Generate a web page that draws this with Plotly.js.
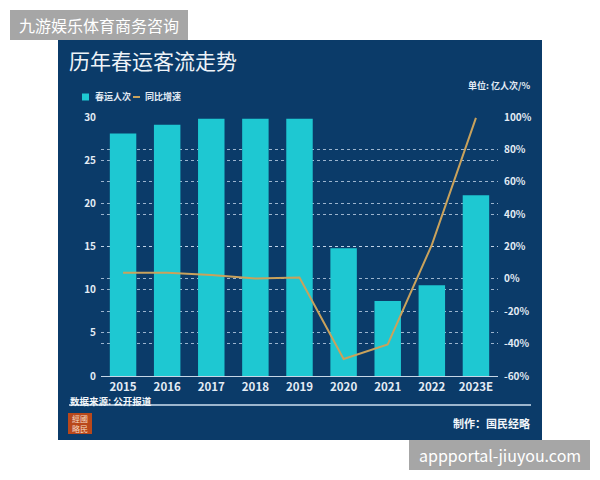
<!DOCTYPE html>
<html>
<head>
<meta charset="utf-8">
<script src="https://cdn.plot.ly/plotly-3.0.1.min.js"></script>
<style>
  html, body { margin: 0; padding: 0; background: #ffffff; }
  #chart { width: 600px; height: 480px; }
</style>
</head>
<body>
<div id="chart"></div>
<script>
// Spring Festival travel: passenger trips (100 million) and year-on-year growth (%)
const years = ['2015', '2016', '2017', '2018', '2019', '2020', '2021', '2022', '2023E'];
const passengers = [28.1, 29.1, 29.8, 29.8, 29.8, 14.8, 8.7, 10.5, 20.95];
const growth = [3.8, 3.8, 2.4, 0.3, 0.8, -49.5, -40.5, 21, 99.5];

const seriesNames = ['春运人次', '同比增速'];
const leftTicks = [0, 5, 10, 15, 20, 25, 30];
const rightTicks = [-60, -40, -20, 0, 20, 40, 60, 80, 100];

const W = 600, H = 480;
const M = { l: 101, r: 102, t: 117, b: 104 };
const PW = W - M.l - M.r, PH = H - M.t - M.b;
// pixel -> paper helpers for decorations outside the plot area
const px = x => (x - M.l) / PW;
const py = y => (H - M.b - y) / PH;

const FONT = '"Noto Sans CJK SC", "Noto Sans", sans-serif';
const NAVY = '#0b3b69';
const CYAN = '#1ec8d2';
const GOLD = '#c9a25c';
const LIGHT = '#e4ecf5';

const traces = [
  {
    type: 'bar',
    name: seriesNames[0],
    x: years,
    y: passengers,
    marker: { color: CYAN, line: { width: 0 } },
    width: 0.6,
    showlegend: false,
    hoverinfo: 'x+y'
  },
  {
    type: 'scatter',
    mode: 'lines',
    name: seriesNames[1],
    x: years,
    y: growth,
    yaxis: 'y2',
    line: { color: GOLD, width: 2 },
    showlegend: false,
    hoverinfo: 'x+y'
  }
];

const layout = {
  width: W,
  height: H,
  margin: M,
  paper_bgcolor: '#ffffff',
  plot_bgcolor: 'rgba(0,0,0,0)',
  font: { family: FONT, color: LIGHT, size: 11 },
  title: {
    text: '历年春运客流走势',
    font: { family: FONT, size: 21, color: '#eef3f8' },
    xref: 'container', x: 69 / W, xanchor: 'left',
    yref: 'container', y: 1 - 62 / H, yanchor: 'middle'
  },
  showlegend: false,
  bargap: 0.4,
  xaxis: {
    type: 'category',
    tickfont: { family: FONT, size: 11.5, color: LIGHT, weight: 'bold' },
    showgrid: false,
    showline: true,
    linecolor: '#c7d6e6',
    linewidth: 1,
    ticks: '',
    ticklabelstandoff: 0,
    zeroline: false,
    fixedrange: true
  },
  yaxis: {
    range: [0, 30],
    tickvals: leftTicks,
    ticktext: leftTicks.map(String),
    tickfont: { family: FONT, size: 10, color: LIGHT, weight: 'bold' },
    showgrid: true,
    gridcolor: 'rgba(205,222,240,0.75)',
    griddash: 'dot',
    gridwidth: 1,
    zeroline: false,
    ticks: '',
    ticklabelstandoff: 4,
    fixedrange: true
  },
  yaxis2: {
    overlaying: 'y',
    side: 'right',
    range: [-60, 100],
    tickvals: rightTicks,
    ticktext: rightTicks.map(v => v + '%'),
    tickfont: { family: FONT, size: 10, color: LIGHT, weight: 'bold' },
    showgrid: true,
    gridcolor: 'rgba(205,222,240,0.75)',
    griddash: 'dot',
    gridwidth: 1,
    zeroline: false,
    ticks: '',
    ticklabelstandoff: 5,
    fixedrange: true
  },
  shapes: [
    // navy card
    { type: 'rect', xref: 'paper', yref: 'paper', layer: 'below',
      x0: px(58), x1: px(542), y0: py(440), y1: py(40),
      fillcolor: NAVY, line: { width: 0 } },
    // legend keys
    { type: 'rect', xref: 'paper', yref: 'paper',
      x0: px(82), x1: px(89), y0: py(100.5), y1: py(93.5),
      fillcolor: CYAN, line: { width: 0 } },
    { type: 'line', xref: 'paper', yref: 'paper',
      x0: px(133), x1: px(140), y0: py(97), y1: py(97),
      line: { color: GOLD, width: 2 } },
    // rule under the source note
    { type: 'line', xref: 'paper', yref: 'paper',
      x0: px(69), x1: px(531), y0: py(405), y1: py(405),
      line: { color: '#cfe0f0', width: 1.5 } },
    // seal logo
    { type: 'rect', xref: 'paper', yref: 'paper',
      x0: px(68), x1: px(92), y0: py(434), y1: py(413),
      fillcolor: '#b9481b', line: { width: 0 } },
    // top-left site badge
    { type: 'rect', xref: 'paper', yref: 'paper',
      x0: px(10), x1: px(188), y0: py(40), y1: py(10),
      fillcolor: '#a6a6a6', line: { width: 0 } },
    // bottom-right site badge
    { type: 'rect', xref: 'paper', yref: 'paper',
      x0: px(409), x1: px(590), y0: py(470), y1: py(440),
      fillcolor: '#a6a6a6', line: { width: 0 } }
  ],
  annotations: [
    { text: seriesNames[0], xref: 'paper', yref: 'paper',
      x: px(93), y: py(97), xanchor: 'left', yanchor: 'middle',
      showarrow: false, font: { family: FONT, size: 9, color: LIGHT, weight: 'bold' } },
    { text: seriesNames[1], xref: 'paper', yref: 'paper',
      x: px(143), y: py(97), xanchor: 'left', yanchor: 'middle',
      showarrow: false, font: { family: FONT, size: 9, color: LIGHT, weight: 'bold' } },
    { text: '单位: 亿人次/%', xref: 'paper', yref: 'paper',
      x: px(532), y: py(85), xanchor: 'right', yanchor: 'middle',
      showarrow: false, font: { family: FONT, size: 9, color: LIGHT, weight: 'bold' } },
    { text: '数据来源: 公开报道', xref: 'paper', yref: 'paper',
      x: px(68), y: py(400.5), xanchor: 'left', yanchor: 'middle',
      showarrow: false, font: { family: FONT, size: 9.5, color: '#f2f6fa', weight: 'bold' } },
    { text: '制作：国民经略', xref: 'paper', yref: 'paper',
      x: px(532), y: py(423), xanchor: 'right', yanchor: 'middle',
      showarrow: false, font: { family: FONT, size: 11, color: '#f2f6fa', weight: 'bold' } },
    { text: '經國<br>略民', xref: 'paper', yref: 'paper',
      x: px(80), y: py(423.5), xanchor: 'center', yanchor: 'middle',
      showarrow: false, align: 'center',
      font: { family: '"Noto Sans CJK TC", serif', size: 8, color: '#f6dcc4' } },
    { text: '九游娱乐体育商务咨询', xref: 'paper', yref: 'paper',
      x: px(99), y: py(25), xanchor: 'center', yanchor: 'middle',
      showarrow: false, font: { family: FONT, size: 16, color: '#ffffff' } },
    { text: 'appportal-jiuyou.com', xref: 'paper', yref: 'paper',
      x: px(499.5), y: py(455), xanchor: 'center', yanchor: 'middle',
      showarrow: false, font: { family: FONT, size: 16, color: '#ffffff' } }
  ]
};

Plotly.newPlot('chart', traces, layout, { displayModeBar: false, staticPlot: true });
</script>
</body>
</html>
